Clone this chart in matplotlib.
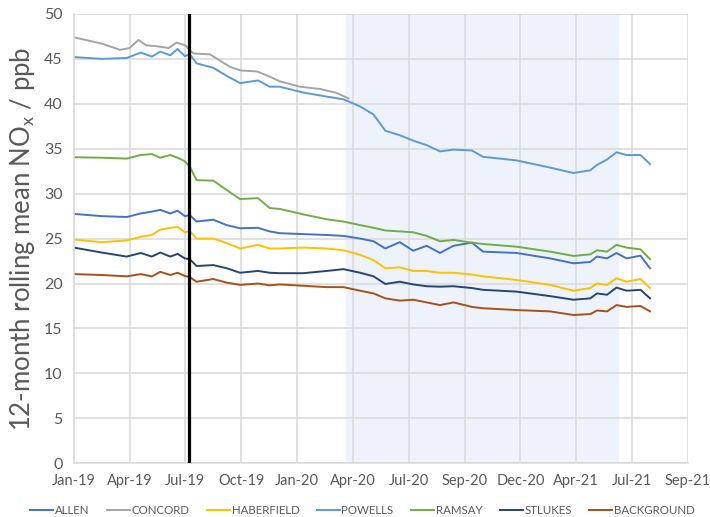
import matplotlib
matplotlib.use('Agg')
import matplotlib.pyplot as plt

plt.rcParams['font.family'] = ['Lato', 'DejaVu Sans']

# позиции по оси X в единицах шага сетки (0 = Jan-19, 11 = Sep-21)
tick_labels = ['Jan-19', 'Apr-19', 'Jul-19', 'Oct-19', 'Jan-20', 'Apr-20',
               'Jul-20', 'Sep-20', 'Dec-20', 'Apr-21', 'Jul-21', 'Sep-21']

t = [0, 0.5, 0.95, 1.2, 1.4, 1.55, 1.73, 1.86, 1.99, 2.08, 2.2, 2.5, 2.74, 2.98,
     3.3, 3.51, 3.69, 4.11, 4.53, 4.83, 5.13, 5.37, 5.58, 5.84, 6.08, 6.32, 6.56,
     6.8, 7.13, 7.33, 7.93, 8.53, 8.95, 9.25, 9.37, 9.55, 9.72, 9.9, 10.15, 10.32]

t_concord = [0, 0.5, 0.83, 1.0, 1.16, 1.3, 1.49, 1.7, 1.84, 2.0, 2.14, 2.44, 2.8,
             3.0, 3.28, 3.52, 3.69, 4.05, 4.41, 4.71, 4.92]
concord = [47.4, 46.7, 46.0, 46.2, 47.1, 46.5, 46.4, 46.2, 46.8, 46.5, 45.6, 45.5,
           44.1, 43.7, 43.6, 43.0, 42.5, 41.9, 41.65, 41.2, 40.6]

allen = [27.75, 27.5, 27.4, 27.8, 28.0, 28.2, 27.8, 28.1, 27.5, 27.6, 26.9, 27.1,
         26.5, 26.15, 26.2, 25.8, 25.6, 25.5, 25.4, 25.3, 25.0, 24.7, 23.9, 24.6,
         23.65, 24.2, 23.4, 24.2, 24.55, 23.55, 23.4, 22.8, 22.25, 22.4, 23.0, 22.8,
         23.4, 22.8, 23.1, 21.7]
haberfield = [24.9, 24.6, 24.8, 25.2, 25.4, 26.0, 26.2, 26.3, 25.7, 25.8, 25.0, 25.0,
              24.5, 23.9, 24.3, 23.9, 23.9, 24.0, 23.9, 23.7, 23.2, 22.6, 21.7, 21.8,
              21.4, 21.4, 21.2, 21.2, 21.0, 20.8, 20.4, 19.85, 19.2, 19.5, 20.0, 19.85,
              20.6, 20.2, 20.5, 19.5]
powells = [45.2, 45.0, 45.1, 45.7, 45.25, 45.8, 45.4, 46.1, 45.3, 45.5, 44.5, 44.0,
           43.1, 42.3, 42.6, 41.9, 41.9, 41.25, 40.8, 40.5, 39.7, 38.8, 37.0, 36.5,
           35.9, 35.4, 34.7, 34.9, 34.8, 34.1, 33.7, 32.9, 32.3, 32.6, 33.2, 33.8,
           34.6, 34.3, 34.3, 33.3]
ramsay = [34.05, 34.0, 33.9, 34.3, 34.4, 34.0, 34.3, 34.0, 33.6, 33.0, 31.5, 31.45,
          30.4, 29.4, 29.5, 28.4, 28.3, 27.7, 27.15, 26.9, 26.5, 26.2, 25.9, 25.8,
          25.7, 25.3, 24.7, 24.85, 24.55, 24.4, 24.1, 23.55, 23.07, 23.25, 23.7, 23.55,
          24.3, 24.0, 23.8, 22.7]
stlukes = [24.0, 23.45, 23.0, 23.4, 23.0, 23.45, 23.0, 23.3, 22.8, 22.7, 21.95, 22.05,
           21.7, 21.2, 21.4, 21.2, 21.15, 21.15, 21.4, 21.6, 21.2, 20.8, 19.95, 20.2,
           19.9, 19.7, 19.65, 19.7, 19.5, 19.3, 19.1, 18.6, 18.2, 18.35, 18.9, 18.75,
           19.55, 19.2, 19.3, 18.35]
background = [21.05, 20.95, 20.8, 21.05, 20.8, 21.3, 20.95, 21.2, 20.85, 20.7, 20.2, 20.5,
              20.1, 19.85, 20.0, 19.8, 19.9, 19.75, 19.6, 19.6, 19.2, 18.9, 18.35, 18.1,
              18.2, 17.9, 17.6, 17.9, 17.4, 17.25, 17.05, 16.9, 16.5, 16.6, 17.0, 16.9,
              17.6, 17.4, 17.5, 16.9]

fig = plt.figure(figsize=(7.1, 5.17), dpi=100)
ax = fig.add_axes([0.1038, 0.1039, 0.8652, 0.8692])

# затенённый период и вертикальная линия
ax.axvspan(4.88, 9.75, color='#EEF3FB', zorder=0)
ax.axvline(2.06, color='black', lw=2.3, zorder=5)

ax.plot(t, allen, color='#4472C4', lw=1.4, label='ALLEN')
ax.plot(t_concord, concord, color='#A5A5A5', lw=1.4, label='CONCORD')
ax.plot(t, haberfield, color='#FFC000', lw=1.4, label='HABERFIELD')
ax.plot(t, powells, color='#5B9BD5', lw=1.4, label='POWELLS')
ax.plot(t, ramsay, color='#70AD47', lw=1.4, label='RAMSAY')
ax.plot(t, stlukes, color='#264478', lw=1.4, label='STLUKES')
ax.plot(t, background, color='#A9501A', lw=1.4, label='BACKGROUND')

ax.set_xlim(0, 11)
ax.set_ylim(0, 50)
ax.set_xticks(range(12))
ax.set_xticklabels(tick_labels)
ax.set_yticks(range(0, 51, 5))
ax.tick_params(length=0, labelsize=10.5, colors='#595959', pad=8)
ax.tick_params(axis='y', labelsize=11.5)
ax.grid(color='#D9D9D9', lw=1.1, zorder=1)
ax.set_axisbelow(True)
for s in ['top', 'right']:
    ax.spines[s].set_visible(False)
for s in ['left', 'bottom']:
    ax.spines[s].set_color('#D9D9D9')
    ax.spines[s].set_linewidth(1.1)

ax.set_ylabel('12-month rolling mean NO$_\\mathregular{x}$ / ppb', fontsize=18.5,
              color='#595959', labelpad=5)

ax.legend(loc='upper center', bbox_to_anchor=(0.47, -0.07), ncol=7, frameon=False,
          fontsize=8.3, labelcolor='#595959', handlelength=2.0, handletextpad=0.15,
          columnspacing=1.5)

plt.savefig('out.png', dpi=100)
